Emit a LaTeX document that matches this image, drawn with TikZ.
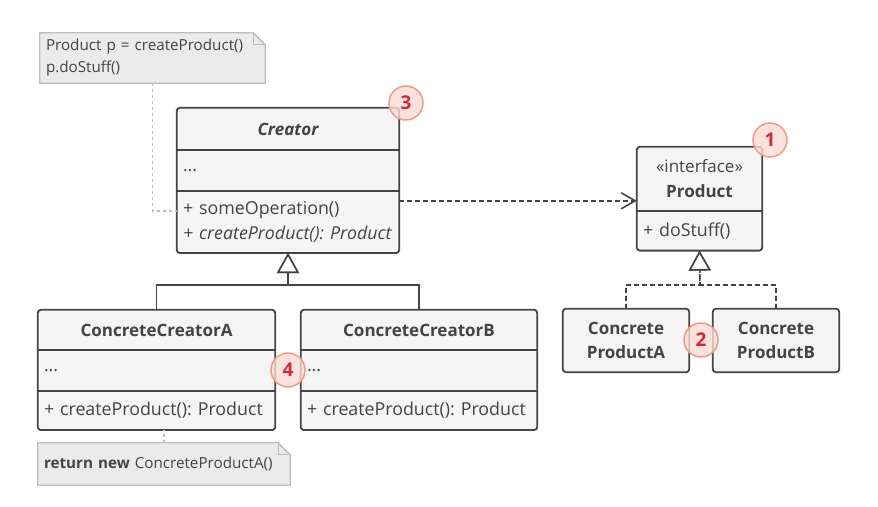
\documentclass[tikz,border=0pt]{standalone}
\usepackage{fontspec}
\setmainfont{Open Sans}
\usetikzlibrary{positioning,arrows.meta,backgrounds}

\definecolor{ink}{HTML}{444444}
\definecolor{boxfill}{HTML}{F5F5F5}
\definecolor{notefill}{HTML}{EBEBEB}
\definecolor{noteline}{HTML}{BDBDBD}
\definecolor{badgeline}{HTML}{F29A88}
\definecolor{badgefill}{HTML}{FADBD3}
\definecolor{badgetext}{HTML}{D12A3C}

\tikzset{
    classhead/.style={minimum width=#1, inner sep=0pt, text=ink, font=\fontsize{17}{24}\selectfont\bfseries, align=center},
    classpart/.style={text width=#1-12pt, inner xsep=6pt, inner ysep=0pt, text=ink, font=\fontsize{17.8}{25}\selectfont, align=left},
    classline/.style={draw=ink, line width=1.8pt, rounded corners=3pt},
    notebox/.style={text width=#1-12pt, inner xsep=6pt, inner ysep=0pt, text=ink, font=\fontsize{15.2}{22}\selectfont, align=left},
    notelink/.style={draw=noteline, line width=1.5pt, dash pattern=on 3pt off 3pt},
    realize/.style={draw=ink, line width=1.6pt, dash pattern=on 5pt off 3pt, -{Triangle[open, length=20pt, width=22pt, line width=1.6pt, fill=white]}},
    extend/.style={draw=ink, line width=1.6pt, -{Triangle[open, length=20pt, width=22pt, line width=1.6pt, fill=white]}},
    depend/.style={draw=ink, line width=1.6pt, dash pattern=on 5pt off 3pt, -{Straight Barb[length=14pt, width=16pt, line width=1.6pt]}},
    badge/.style={circle, minimum size=34pt, inner sep=0pt, draw=badgeline, line width=1.5pt, fill=badgefill, fill opacity=0.8, text opacity=1, text=badgetext, font=\fontsize{19}{19}\selectfont\bfseries}
}

\begin{document}
\frenchspacing
\begin{tikzpicture}[x=1pt, y=-1pt]

    \useasboundingbox (0,0) rectangle (878,506);

    % Notes
    \node[notebox=225pt, minimum height=50pt] (note-creator) at (152.5,58) {Product p = createProduct()\\p.doStuff()};
    \node[notebox=252pt, minimum height=42pt] (note-cca) at (164,464) {\textbf{return new} ConcreteProductA()};
    \foreach \n in {note-creator, note-cca} {
        \begin{scope}[on background layer]
            \filldraw[fill=notefill, draw=noteline, line width=1.3pt] (\n.north west) -- ([xshift=-12pt]\n.north east) -- ([yshift=-12pt]\n.north east) -- (\n.south east) -- (\n.south west) -- cycle;
        \end{scope}
        \draw[noteline, line width=1.3pt] ([xshift=-12pt]\n.north east) -- ([xshift=-12pt, yshift=-12pt]\n.north east) -- ([yshift=-12pt]\n.north east);
    }

    % Creator
    \node[classhead=222pt, minimum height=42pt, font=\fontsize{17}{24}\selectfont\bfseries\itshape] (creator) at (288,129) {Creator};
    \node[classpart=222pt, minimum height=40pt, below=0pt of creator] (creator-attr) {...};
    \node[classpart=222pt, minimum height=62pt, below=0pt of creator-attr] (creator-ops) {+ someOperation()\\\textit{+ createProduct(): Product}};

    % Product interface
    \node[classhead=125pt, minimum height=64pt, font=\fontsize{17}{25}\selectfont] (product) at (699.5,179) {«interface»\\\textbf{Product}};
    \node[classpart=125pt, minimum height=39pt, below=0pt of product] (product-ops) {+ doStuff()};

    % Concrete products
    \node[classhead=126pt, minimum height=63pt] (cpa) at (626,340.5) {Concrete\\ProductA};
    \node[classhead=126pt, minimum height=63pt] (cpb) at (776,340.5) {Concrete\\ProductB};

    % Concrete creators
    \node[classhead=237pt, minimum height=40pt] (cca) at (156.5,330) {ConcreteCreatorA};
    \node[classpart=237pt, minimum height=40pt, below=0pt of cca] (cca-attr) {...};
    \node[classpart=237pt, minimum height=39pt, below=0pt of cca-attr] (cca-ops) {+ createProduct(): Product};
    \node[classhead=236pt, minimum height=40pt] (ccb) at (419,330) {ConcreteCreatorB};
    \node[classpart=236pt, minimum height=40pt, below=0pt of ccb] (ccb-attr) {...};
    \node[classpart=236pt, minimum height=39pt, below=0pt of ccb-attr] (ccb-ops) {+ createProduct(): Product};

    % Outlines and dividers
    \begin{scope}[on background layer]
        \foreach \top/\bottom in {creator/creator-ops, product/product-ops, cpa/cpa, cpb/cpb, cca/cca-ops, ccb/ccb-ops} {
            \filldraw[classline, fill=boxfill] (\top.north west) rectangle (\bottom.south east);
        }
    \end{scope}
    \foreach \n in {creator, creator-attr, product, cca, cca-attr, ccb, ccb-attr} {
        \draw[draw=ink, line width=1.8pt] (\n.south west) -- (\n.south east);
    }

    % Connectors
    \coordinate (creator-join) at (288,285);
    \coordinate (product-join) at (700,285);
    \draw[extend] (cca.north) |- (creator-join) -- (creator-ops.south);
    \draw[extend] (ccb.north) |- (creator-join) -- (creator-ops.south);
    \draw[realize] (cpa.north) |- (product-join) -- (product-ops.south);
    \draw[realize] (cpb.north) |- (product-join) -- (product-ops.south);
    \draw[depend] ([yshift=21pt]creator-ops.east) -- ([yshift=21pt]creator-ops.east -| product.west);
    \draw[notelink] (note-creator.south) |- ([yshift=11pt]creator-ops.west);
    \draw[notelink] (note-cca.north) -- (note-cca.north |- cca-ops.south);

    % Badges
    \node[badge] (badge-1) at (770,140) {1};
    \node[badge] (badge-2) at (701,340) {2};
    \node[badge] (badge-3) at (406,103) {3};
    \node[badge] (badge-4) at (288,370) {4};
\end{tikzpicture}
\end{document}
